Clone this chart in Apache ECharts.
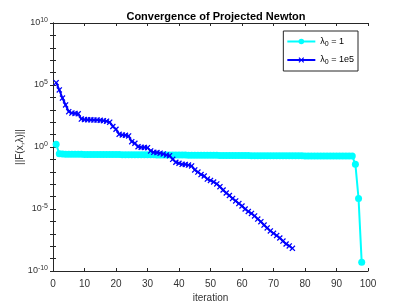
<!DOCTYPE html>
<html><head><meta charset="utf-8">
<script src="https://cdn.jsdelivr.net/npm/echarts@6/dist/echarts.min.js"></script>
<style>html,body{margin:0;padding:0;background:#fff}#c{width:407px;height:305px}</style>
</head><body><div id="c"></div>
<script>
// lambda0 = 1 (iterations 1..98)
const lambda1 = [1.7, 0.28,
 0.27,0.265,0.262,0.26,0.258,0.256,0.255,0.254,
 0.253,0.252,0.251,0.25,0.249,0.248,0.247,0.246,0.245,0.244,
 0.243,0.242,0.241,0.24,0.239,0.238,0.237,0.236,0.235,0.234,
 0.233,0.232,0.231,0.23,0.229,0.228,0.227,0.226,0.225,0.224,
 0.223,0.222,0.221,0.22,0.219,0.218,0.217,0.216,0.215,0.214,
 0.213,0.212,0.211,0.21,0.209,0.208,0.207,0.206,0.205,0.204,
 0.203,0.202,0.201,0.2,0.2,0.199,0.199,0.198,0.198,0.197,
 0.197,0.196,0.196,0.195,0.195,0.194,0.194,0.193,0.193,0.192,
 0.192,0.191,0.191,0.19,0.19,0.19,0.189,0.189,0.189,0.188,
 0.188,0.188,0.187,0.187,0.186,
 0.04, 7e-5, 5e-10];
// lambda0 = 1e5 (iterations 1..76)
const lambda1e5 = [1.55e5,4.0e4,8.9e3,2.45e3,710,540,510,480,178,162,
 158,155,151,148,141,132,120,100,45,27,
 10.5,9.3,8.9,7.8,2.7,2.0,1.05,0.95,0.93,0.89,
 0.48,0.37,0.355,0.32,0.275,0.224,0.2,0.102,0.059,0.049,
 0.04,0.039,0.035,0.0295,0.0141,9.5e-3,6.0e-3,4.6e-3,2.6e-3,2.0e-3,
 1.5e-3,1.05e-3,6.3e-4,3.4e-4,1.95e-4,1.23e-4,7.1e-5,4.5e-5,2.75e-5,1.74e-5,
 1.0e-5,6.3e-6,4.4e-6,2.75e-6,1.55e-6,9.5e-7,5.1e-7,2.95e-7,1.7e-7,1.1e-7,
 7.2e-8,4.6e-8,2.6e-8,1.5e-8,1.05e-8,6.8e-9];
const seriesNames = ['λ0 = 1', 'λ0 = 1e5'];
const xTicks = [0,10,20,30,40,50,60,70,80,90,100];
const yTickExps = [-10,-5,0,5,10];

const axisCol = '#262626';
const labCol = '#333';
const font = 'Liberation Sans, Arial, Helvetica, sans-serif';
const toPairs = arr => arr.map((v,i)=>[i+1,v]);
const xMark = 'path://M0,1.5L1.5,0L5,3.5L8.5,0L10,1.5L6.5,5L10,8.5L8.5,10L5,6.5L1.5,10L0,8.5L3.5,5Z';

const chart = echarts.init(document.getElementById('c'), null, {renderer:'canvas'});
const baseX = {type:'value', min:xTicks[0], max:xTicks[xTicks.length-1], interval:10,
  splitLine:{show:false}, axisLine:{show:true, lineStyle:{color:axisCol, width:1}},
  axisTick:{show:true, inside:true, length:3, lineStyle:{color:axisCol}}};
const baseY = {type:'log', logBase:10, min:1e-10, max:1e10, interval:1,
  splitLine:{show:false}, axisLine:{show:true, lineStyle:{color:axisCol, width:1}},
  axisTick:{show:true, inside:true, length:3, lineStyle:{color:axisCol}}};

chart.setOption({
  animation:false,
  backgroundColor:'#fff',
  title:{text:'Convergence of Projected Newton', left:211, top:6, textAlign:'center',
    textStyle:{fontFamily:font, fontSize:11, fontWeight:'bold', color:'#000'}},
  grid:{left:53, right:39, top:23, bottom:34, show:false, containLabel:false, outerBoundsMode:'none'},
  legend:{orient:'vertical', right:49, top:31, itemWidth:28, itemHeight:7, itemGap:8,
    backgroundColor:'#fff', borderColor:axisCol, borderWidth:1, padding:[6,4,5,3],
    data:seriesNames,
    formatter: n => '{a|λ}{s|0}{a|' + n.slice(2) + '}',
    textStyle:{fontFamily:font, color:'#000', rich:{
      a:{fontFamily:font, fontSize:9, color:'#000'},
      s:{fontFamily:font, fontSize:7, color:'#000', padding:[5,0,0,0]}}}},
  xAxis:[
    Object.assign({}, baseX, {position:'bottom', name:'iteration', nameLocation:'middle', nameGap:22,
      nameMoveOverlap:false,
      nameTextStyle:{fontFamily:font, fontSize:10, color:labCol},
      axisLabel:{show:true, fontFamily:font, fontSize:10, color:labCol, margin:8}}),
    Object.assign({}, baseX, {position:'top', axisLabel:{show:false}})
  ],
  yAxis:[
    Object.assign({}, baseY, {position:'left', name:'||F(x,λ)||', nameLocation:'middle', nameGap:28,
      nameMoveOverlap:false,
      nameTextStyle:{fontFamily:font, fontSize:10, color:labCol},
      axisLabel:{show:true, margin:5, formatter: v => {
        const e = Math.round(Math.log10(v));
        return yTickExps.includes(e) ? '{b|10}{e|' + e + '}' : '';
      }, rich:{
        b:{fontFamily:font, fontSize:9, color:labCol},
        e:{fontFamily:font, fontSize:7, color:labCol, padding:[0,0,6,0]}}}}),
    Object.assign({}, baseY, {position:'right', axisLabel:{show:false}})
  ],
  series:[
    {name:seriesNames[0], type:'line', xAxisIndex:0, yAxisIndex:0, data:toPairs(lambda1),
      symbol:'circle', symbolSize:7, showAllSymbol:true,
      lineStyle:{color:'#00FFFF', width:2}, itemStyle:{color:'#00FFFF'}, z:2},
    {name:seriesNames[1], type:'line', xAxisIndex:0, yAxisIndex:0, data:toPairs(lambda1e5),
      symbol:xMark, symbolSize:6, showAllSymbol:true,
      lineStyle:{color:'#0000FF', width:2}, itemStyle:{color:'#0000FF'}, z:3}
  ]
});
</script></body></html>
